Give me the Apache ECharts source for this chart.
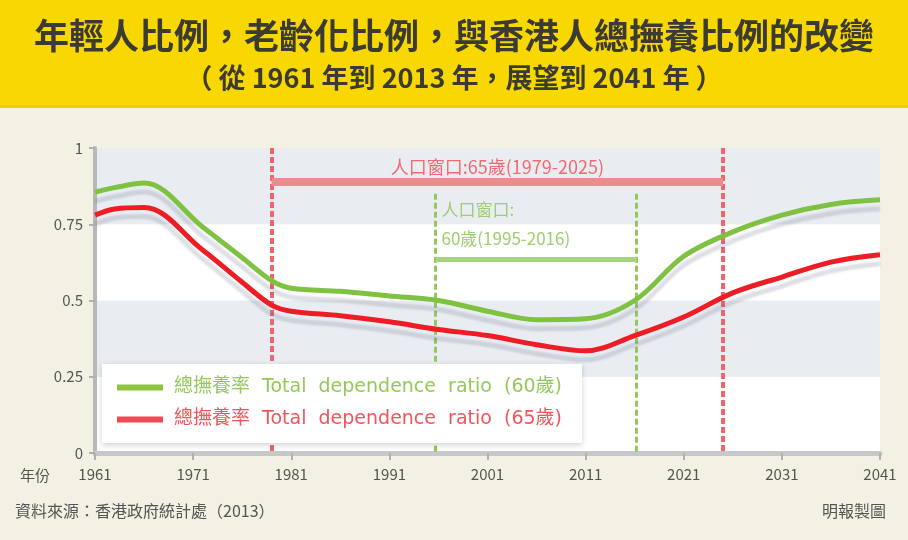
<!DOCTYPE html>
<html>
<head>
<meta charset="utf-8">
<script src="https://cdn.jsdelivr.net/npm/echarts@6/dist/echarts.min.js"></script>
<style>
  html, body { margin: 0; padding: 0; background: #f3f0e4; }
  #chart { width: 908px; height: 540px; }
</style>
</head>
<body>
<div id="chart"></div>
<script>
// values
const years = [1961, 1963, 1966, 1972, 1976, 1979, 1981, 1986, 1991, 1996, 2001, 2006, 2011, 2016, 2021, 2026, 2031, 2036, 2041]
const ratio60 = [0.855, 0.87, 0.885, 0.74, 0.64, 0.565, 0.54, 0.53, 0.515, 0.50, 0.465, 0.437, 0.44, 0.50, 0.645, 0.725, 0.78, 0.815, 0.83]
const ratio65 = [0.78, 0.80, 0.805, 0.665, 0.56, 0.485, 0.465, 0.45, 0.43, 0.405, 0.385, 0.355, 0.335, 0.385, 0.446, 0.525, 0.577, 0.626, 0.65]

const yTicks = [0, 0.25, 0.5, 0.75, 1]
const window65 = [1979, 2025]
const window60 = [1995.7, 2016.2]

const name60 = '總撫養率  Total  dependence  ratio  (60歲)'
const name65 = '總撫養率  Total  dependence  ratio  (65歲)'

const green = '#7fc241'
const red = '#ee1c25'
const cjk = '"Noto Sans CJK TC", "Noto Sans", sans-serif'

const chart = echarts.init(document.getElementById('chart'))

const lineShadow = {
  shadowColor: 'rgba(90,100,125,0.2)',
  shadowBlur: 2,
  shadowOffsetY: 9
}

chart.setOption({
  backgroundColor: '#f3f0e4',
  animation: false,
  textStyle: { fontFamily: cjk },
  grid: { left: 95, right: 28, top: 148, bottom: 87 },
  graphic: [
    { type: 'rect', left: 0, top: 0, shape: { width: 908, height: 108 }, style: { fill: '#f8d800' } },
    { type: 'rect', left: 0, top: 105, shape: { width: 908, height: 3 }, style: { fill: '#eccd10' } },
    { type: 'text', left: 'center', top: 18, style: { text: '年輕人比例，老齡化比例，與香港人總撫養比例的改變', font: 'bold 35px ' + cjk, fill: '#3b3a33' } },
    { type: 'text', left: 'center', top: 64, style: { text: '（ 從 1961 年到 2013 年，展望到 2041 年 ）', font: 'bold 27px ' + cjk, fill: '#3b3a33' } },
    { type: 'text', left: 20, top: 468, style: { text: '年份', font: '15px ' + cjk, fill: '#555' } },
    { type: 'text', left: 15, top: 503, style: { text: '資料來源：香港政府統計處（2013）', font: '16px ' + cjk, fill: '#555' } },
    { type: 'text', right: 22, top: 503, style: { text: '明報製圖', font: '16px ' + cjk, fill: '#555' } }
  ],
  legend: {
    left: 102,
    top: 364,
    z: 20,
    orient: 'vertical',
    backgroundColor: '#ffffff',
    shadowColor: 'rgba(0,0,0,0.18)',
    shadowBlur: 6,
    shadowOffsetY: 2,
    padding: [14, 20, 14, 15],
    itemGap: 13,
    itemWidth: 46,
    itemHeight: 6,
    icon: 'rect',
    textStyle: { fontSize: 19, fontFamily: '"DejaVu Sans", "Noto Sans CJK TC", sans-serif', padding: [0, 0, 0, 6] },
    data: [
      { name: name60, itemStyle: { color: '#8cc63f' }, textStyle: { color: '#93c95a' } },
      { name: name65, itemStyle: { color: '#f04a55' }, textStyle: { color: '#f0555a' } }
    ]
  },
  xAxis: {
    type: 'value',
    min: 1961,
    max: 2041,
    interval: 10,
    axisLine: { lineStyle: { color: '#c6c8cc', width: 5 } },
    axisTick: { show: true, length: 7, lineStyle: { color: '#b0b0b0', width: 2 } },
    axisLabel: { color: '#555', fontSize: 15, margin: 14, formatter: v => String(v) },
    splitLine: { show: false }
  },
  yAxis: {
    type: 'value',
    min: 0,
    max: 1,
    interval: 0.25,
    axisLine: { show: true, lineStyle: { color: '#b8b8b8', width: 4 } },
    axisTick: { show: true, length: 6, lineStyle: { color: '#b0b0b0', width: 2 } },
    axisLabel: {
      color: '#555', fontSize: 15, margin: 12,
      formatter: v => yTicks.includes(v) ? String(v) : ''
    },
    splitLine: { show: false },
    splitArea: { show: true, areaStyle: { color: ['#ffffff', '#e9edf2'] } }
  },
  series: [
    {
      name: name60,
      type: 'line',
      smooth: 0.35,
      symbol: 'none',
      data: years.map((y, i) => [y, ratio60[i]]),
      lineStyle: { color: green, width: 5, ...lineShadow },
      itemStyle: { color: green },
      z: 5,
      markLine: {
        silent: true,
        symbol: ['none', 'none'],
        data: [
          [{ coord: [window60[0], 0.85], lineStyle: { color: '#92c85e', width: 3, type: [6, 3] } }, { coord: [window60[0], 0] }],
          [{ coord: [window60[1], 0.85], lineStyle: { color: '#92c85e', width: 3, type: [6, 3] } }, { coord: [window60[1], 0] }],
          [
            {
              coord: [window60[0], 0.636],
              lineStyle: { color: '#a5d47c', width: 5, type: 'solid' },
              label: {
                show: true,
                position: 'insideStartTop',
                formatter: '人口窗口:\n60歲(' + Math.floor(window60[0]) + '-' + Math.floor(window60[1]) + ')',
                color: '#9dce70',
                fontSize: 17,
                lineHeight: 29,
                distance: [6, 6]
              }
            },
            { coord: [window60[1], 0.636] }
          ]
        ]
      }
    },
    {
      name: name65,
      type: 'line',
      smooth: 0.35,
      symbol: 'none',
      data: years.map((y, i) => [y, ratio65[i]]),
      lineStyle: { color: red, width: 5, ...lineShadow },
      itemStyle: { color: red },
      z: 6,
      markLine: {
        silent: true,
        symbol: ['none', 'none'],
        data: [
          [{ coord: [window65[0], 1], lineStyle: { color: '#f0646c', width: 4, type: [6, 3] } }, { coord: [window65[0], 0] }],
          [{ coord: [window65[1], 1], lineStyle: { color: '#f0646c', width: 4, type: [6, 3] } }, { coord: [window65[1], 0] }],
          [
            {
              coord: [window65[0], 0.889],
              lineStyle: { color: '#ef8a8f', width: 8, type: 'solid' },
              label: {
                show: true,
                position: 'middle',
                formatter: '人口窗口:65歲(' + window65[0] + '-' + window65[1] + ')',
                color: '#f06a70',
                fontSize: 18,
                distance: 6
              }
            },
            { coord: [window65[1], 0.889] }
          ]
        ]
      }
    }
  ]
})
</script>
</body>
</html>
